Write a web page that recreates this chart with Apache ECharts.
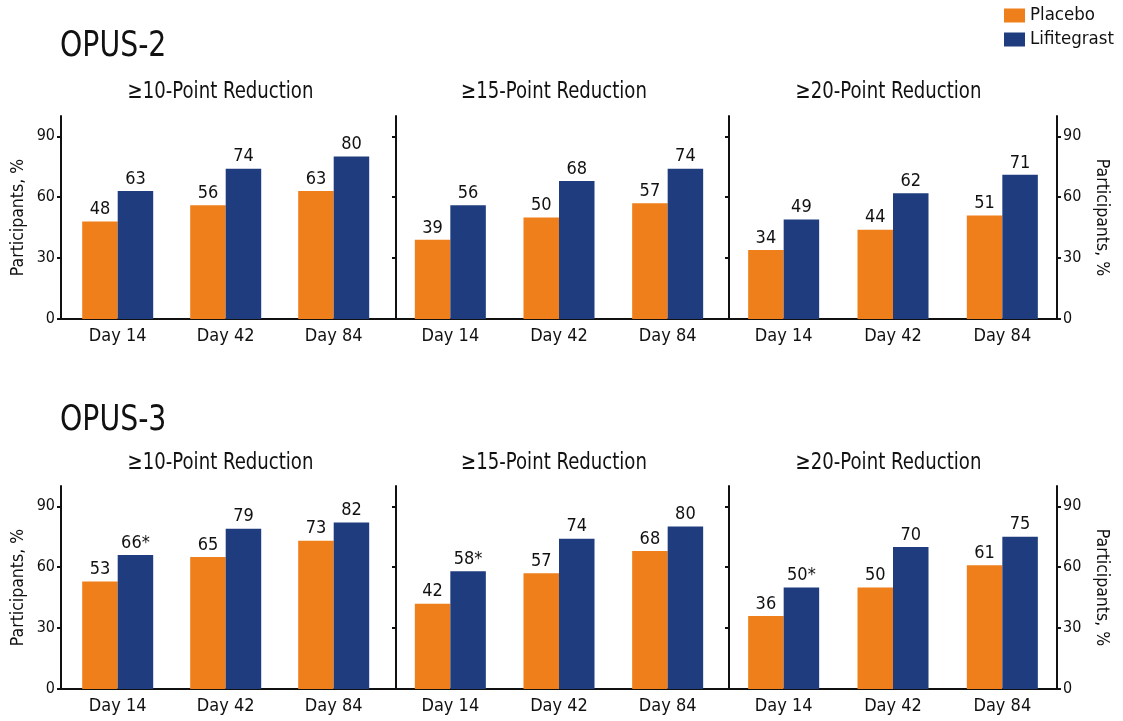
<!DOCTYPE html>
<html>
<head>
<meta charset="utf-8">
<script src="https://cdn.jsdelivr.net/npm/echarts@6/dist/echarts.min.js"></script>
<style>
  html, body { margin: 0; padding: 0; background: #ffffff; }
  #chart { width: 1123px; height: 721px; }
</style>
</head>
<body>
<div id="chart"></div>
<script>
// ---- Data ----
const days = ['Day 14', 'Day 42', 'Day 84'];
const yTicks = [0, 30, 60, 90];
const studies = ['OPUS-2', 'OPUS-3'];
const thresholds = ['≥10-Point Reduction', '≥15-Point Reduction', '≥20-Point Reduction'];
const seriesNames = ['Placebo', 'Lifitegrast'];

// OPUS-2, % of participants
const opus2Placebo10 = [48, 56, 63];
const opus2Lifi10    = [63, 74, 80];
const opus2Placebo15 = [39, 50, 57];
const opus2Lifi15    = [56, 68, 74];
const opus2Placebo20 = [34, 44, 51];
const opus2Lifi20    = [49, 62, 71];

// OPUS-3, % of participants
const opus3Placebo10 = [53, 65, 73];
const opus3Lifi10    = [66, 79, 82];
const opus3Placebo15 = [42, 57, 68];
const opus3Lifi15    = [58, 74, 80];
const opus3Placebo20 = [36, 50, 61];
const opus3Lifi20    = [50, 70, 75];

// significance marks on the Lifitegrast labels
const opus2Marks = ['', '', ''];
const opus3Marks = ['*', '', ''];

const panelData = [
  [[opus2Placebo10, opus2Lifi10], [opus2Placebo15, opus2Lifi15], [opus2Placebo20, opus2Lifi20]],
  [[opus3Placebo10, opus3Lifi10], [opus3Placebo15, opus3Lifi15], [opus3Placebo20, opus3Lifi20]]
];
const panelMarks = [opus2Marks, opus3Marks];

// ---- Styling / layout ----
const FONT = "'Liberation Sans Narrow', 'DejaVu Sans Condensed', 'Liberation Sans', sans-serif";
const colors = ['#EF7F1A', '#1E3C7E'];
const ink = '#111111';

const rows = [
  { top: 116, titleY: 47, subY: 92 },
  { top: 486, titleY: 421, subY: 463 }
];
const plotHeight = 203;
const cols = [
  { left: 63.7, width: 324, subX: 220.5 },
  { left: 396, width: 326, subX: 554 },
  { left: 729, width: 328, subX: 888.5 }
];
const axisStart = 61, axisEnd = 1057;
const condense = 0.875; // horizontal squeeze for the headline texts

const grid = [], xAxis = [], yAxis = [], series = [], graphic = [];

const lineStyle = { color: ink, width: 2 };
const yBase = { type: 'value', min: 0, max: 100, splitLine: { show: false } };
const nameStyle = { color: ink, fontFamily: FONT, fontSize: 17.5 };

rows.forEach((row, r) => {
  graphic.push({
    type: 'text', x: 60, y: row.titleY, scaleX: condense,
    style: { text: studies[r], font: '36px ' + FONT, fill: ink,
             align: 'left', verticalAlign: 'middle', textAlign: 'left', textVerticalAlign: 'middle' }
  });
  cols.forEach((col, c) => {
    graphic.push({
      type: 'text', x: col.subX, y: row.subY, scaleX: condense,
      style: { text: thresholds[c], font: '23px ' + FONT, fill: ink,
               align: 'center', verticalAlign: 'middle', textAlign: 'center', textVerticalAlign: 'middle' }
    });

    const gi = grid.length;
    grid.push({ left: col.left, width: col.width, top: row.top, height: plotHeight });
    xAxis.push({
      type: 'category', gridIndex: gi, data: days,
      axisLine: { lineStyle },
      axisTick: { alignWithLabel: true, length: 4, lineStyle },
      axisLabel: { color: ink, fontFamily: FONT, fontSize: 18, margin: 8 }
    });

    const yi = yAxis.length;
    const showLabels = c === 0;
    yAxis.push(Object.assign({}, yBase, {
      gridIndex: gi,
      offset: c === 0 ? col.left - axisStart : 0,
      axisLine: { show: true, lineStyle },
      axisTick: { show: true, length: 4, lineStyle, customValues: yTicks },
      axisLabel: { show: showLabels, color: ink, fontFamily: FONT, fontSize: 16, margin: 6, customValues: yTicks },
      name: showLabels ? 'Participants, %' : '',
      nameLocation: 'middle', nameRotate: 90, nameGap: 34,
      nameTextStyle: nameStyle
    }));
    if (c === 2) {
      yAxis.push(Object.assign({}, yBase, {
        gridIndex: gi, position: 'right',
        axisLine: { show: true, lineStyle },
        axisTick: { show: true, length: 4, lineStyle, customValues: yTicks },
        axisLabel: { show: true, color: ink, fontFamily: FONT, fontSize: 16, margin: 6, customValues: yTicks },
        name: 'Participants, %', nameLocation: 'middle', nameRotate: -90, nameGap: 36,
        nameTextStyle: nameStyle
      }));
    }

    panelData[r][c].forEach((values, s) => {
      series.push({
        type: 'bar', name: seriesNames[s], xAxisIndex: gi, yAxisIndex: yi,
        data: values, barWidth: 35.5, barGap: '0%',
        itemStyle: { color: colors[s] },
        label: {
          show: true, position: 'top', distance: 3, color: ink,
          fontFamily: FONT, fontSize: 18,
          formatter: p => p.value + (s === 1 ? panelMarks[r][p.dataIndex] : '')
        }
      });
    });
  });

  // continuous baseline across the three panels of a row
  const gi = grid.length;
  grid.push({ left: axisStart, width: axisEnd - axisStart, top: row.top, height: plotHeight });
  xAxis.push({
    type: 'value', gridIndex: gi, min: 0, max: 1,
    axisLine: { show: true, lineStyle }, axisTick: { show: false },
    axisLabel: { show: false }, splitLine: { show: false }
  });
  yAxis.push({ type: 'value', gridIndex: gi, show: false, min: 0, max: 100 });
});

const chart = echarts.init(document.getElementById('chart'), null, { renderer: 'canvas' });
chart.setOption({
  backgroundColor: '#ffffff',
  animation: false,
  legend: {
    data: seriesNames, orient: 'vertical', left: 1004, top: 6, padding: 0,
    itemWidth: 21, itemHeight: 14, itemGap: 5,
    icon: 'rect',
    textStyle: { color: ink, fontFamily: FONT, fontSize: 18.5 }
  },
  grid, xAxis, yAxis, series, graphic
});
</script>
</body>
</html>
